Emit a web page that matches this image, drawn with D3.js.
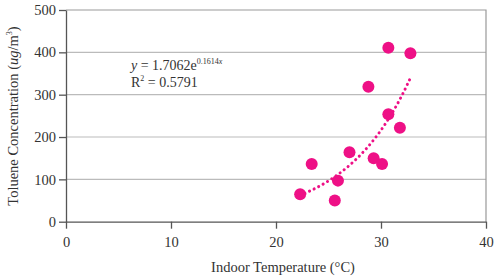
<!DOCTYPE html>
<html>
<head>
<meta charset="utf-8">
<script src="https://cdn.jsdelivr.net/npm/d3@7"></script>
<style>
body { margin:0; background:#fff; }
text { font-family: "Liberation Serif", "Times New Roman", serif; fill:#333; }
</style>
</head>
<body>
<div id="chart"></div>
<script>
// indoor temperature (°C) and toluene (ug/m3)
var temps = [22.3, 23.4, 25.6, 25.9, 27.0, 28.8, 29.3, 30.1, 30.7, 30.7, 31.8, 32.8];
var toluene = [65, 136, 50, 97, 164, 319, 150, 136, 411, 254, 222, 398];
var xTicks = [0, 10, 20, 30, 40];
var yTicks = [0, 100, 200, 300, 400, 500];
// exponential trendline as printed on the chart
var fitA = 1.7062, fitB = 0.1614;

var width = 498, height = 278;
var svg = d3.select("#chart").append("svg")
    .attr("width", width)
    .attr("height", height);

var x = d3.scaleLinear().domain([0, 40]).range([66, 486]);
var y = d3.scaleLinear().domain([0, 500]).range([221.7, 10]);

// grid lines
svg.selectAll(".grid")
    .data(yTicks.filter(function(d) { return d > 0 && d < 500; }))
    .enter().append("line")
    .attr("x1", x(0)).attr("x2", x(40))
    .attr("y1", function(d) { return y(d); })
    .attr("y2", function(d) { return y(d); })
    .attr("stroke", "#bbb")
    .attr("stroke-width", 1.2);

// top and right border
svg.append("path")
    .attr("d", "M" + x(0) + "," + y(500) + "H" + x(40) + "V" + y(0))
    .attr("fill", "none")
    .attr("stroke", "#999").attr("stroke-width", 1.2);

var xAxis = svg.append("g")
    .attr("transform", "translate(0," + y(0) + ")")
    .call(d3.axisBottom(x).tickValues(xTicks).tickSize(7).tickPadding(8).tickSizeOuter(0));
var yAxis = svg.append("g")
    .attr("transform", "translate(" + x(0) + ",0)")
    .call(d3.axisLeft(y).tickValues(yTicks).tickSize(7).tickPadding(3).tickSizeOuter(0));

[xAxis, yAxis].forEach(function(g) {
    g.attr("font-family", null).attr("font-size", null);
    g.select(".domain").attr("stroke", "#555").attr("stroke-width", 1.3);
    g.selectAll(".tick line").attr("stroke", "#555").attr("stroke-width", 1.3);
    g.selectAll(".tick text")
        .attr("fill", "#333")
        .style("font-family", "'Liberation Serif', serif")
        .style("font-size", "14.5px");
});

// trendline
var fitXs = d3.range(d3.min(temps), d3.max(temps) + 0.001, 0.1);
var line = d3.line()
    .x(function(d) { return x(d); })
    .y(function(d) { return y(fitA * Math.exp(fitB * d)); });
svg.append("path")
    .datum(fitXs)
    .attr("d", line)
    .attr("fill", "none")
    .attr("stroke", "#ee1086")
    .attr("stroke-width", 3)
    .attr("stroke-linecap", "round")
    .attr("stroke-dasharray", "0.1 5");

// points
svg.selectAll(".pt")
    .data(temps)
    .enter().append("circle")
    .attr("cx", function(d) { return x(d); })
    .attr("cy", function(d, i) { return y(toluene[i]); })
    .attr("r", 6)
    .attr("fill", "#ee1086");

// equation
var eq = svg.append("text").attr("x", 131).attr("y", 70).style("font-size", "14px");
eq.append("tspan").style("font-style", "italic").text("y");
eq.append("tspan").text(" = 1.7062e");
eq.append("tspan").attr("dy", -6).style("font-size", "8px").text("0.1614");
eq.append("tspan").style("font-size", "8px").style("font-style", "italic").text("x");
var r2 = svg.append("text").attr("x", 131).attr("y", 87).style("font-size", "14px");
r2.append("tspan").text("R");
r2.append("tspan").attr("dy", -6).style("font-size", "8px").text("2");
r2.append("tspan").attr("dy", 6).text(" = 0.5791");

// axis titles
svg.append("text")
    .attr("x", 283).attr("y", 272)
    .attr("text-anchor", "middle")
    .style("font-size", "14.5px")
    .text("Indoor Temperature (°C)");

var yt = svg.append("text")
    .attr("transform", "translate(18,116) rotate(-90)")
    .attr("text-anchor", "middle")
    .style("font-size", "14.5px");
yt.append("tspan").text("Toluene Concentration (");
yt.append("tspan").style("font-style", "italic").text("ug");
yt.append("tspan").text("/m");
yt.append("tspan").attr("dy", -6).style("font-size", "8px").text("3");
yt.append("tspan").attr("dy", 6).text(")");
</script>
</body>
</html>
